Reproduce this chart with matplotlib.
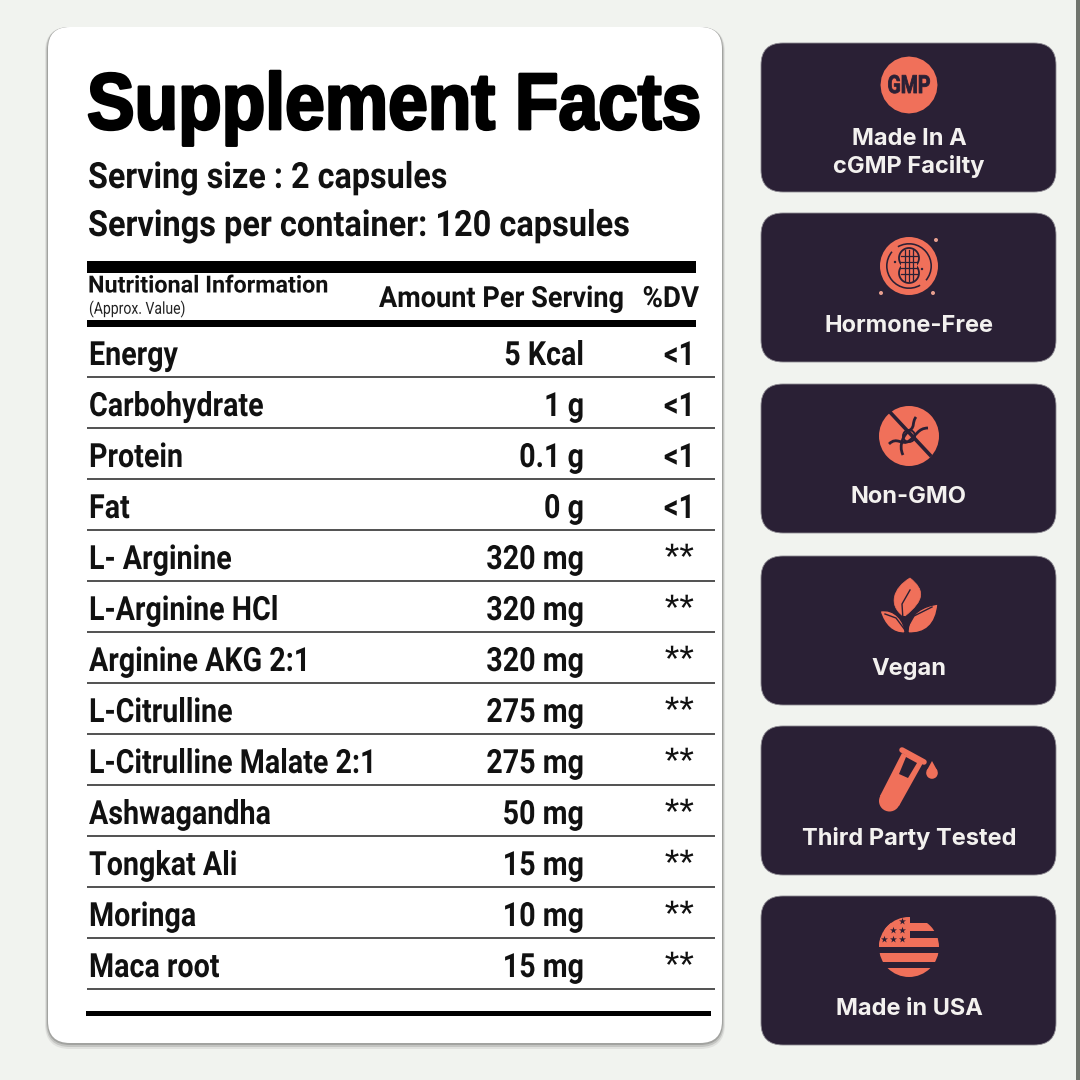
import matplotlib
matplotlib.use("Agg")
import matplotlib.pyplot as plt
import matplotlib.patheffects as pe
from matplotlib.patches import FancyBboxPatch, Circle, Polygon, Wedge, Rectangle, PathPatch, RegularPolygon
from matplotlib.path import Path
from matplotlib.transforms import Affine2D

names = ["Energy", "Carbohydrate", "Protein", "Fat", "L- Arginine", "L-Arginine HCl",
         "Arginine AKG 2:1", "L-Citrulline", "L-Citrulline Malate 2:1", "Ashwagandha",
         "Tongkat Ali", "Moringa", "Maca root"]
amounts = ["5 Kcal", "1 g", "0.1 g", "0 g", "320 mg", "320 mg", "320 mg", "275 mg",
           "275 mg", "50 mg", "15 mg", "10 mg", "15 mg"]
dv = ["<1", "<1", "<1", "<1", "**", "**", "**", "**", "**", "**", "**", "**", "**"]
badges = ["Made In A\ncGMP Facilty", "Hormone-Free", "Non-GMO", "Vegan", "Third Party Tested", "Made in USA"]
card_tops = [43, 213, 384, 556, 726, 896]

DARK = "#2a2035"
CORAL = "#f0705a"
INK = "#111111"
NARROW = ["Roboto", "DejaVu Sans"]
WIDE = ["Liberation Sans", "DejaVu Sans"]


# no condensed font is installed, so squeeze the glyphs sideways when they are drawn
class Squeeze(pe.AbstractPathEffect):
    def __init__(self, sx, x0, stroke=0):
        super().__init__()
        self.sx = sx
        self.x0 = x0
        self.stroke = stroke

    def draw_path(self, renderer, gc, tpath, affine, rgbFace=None):
        a = affine + Affine2D().translate(-self.x0, 0).scale(self.sx, 1).translate(self.x0, 0)
        if self.stroke:
            gc0 = renderer.new_gc()
            gc0.copy_properties(gc)
            gc0.set_linewidth(self.stroke)
            gc0.set_foreground(rgbFace)
            renderer.draw_path(gc0, tpath, a, rgbFace)
            gc0.restore()
        else:
            renderer.draw_path(gc, tpath, a, rgbFace)


def label(x, y, s, size, sx=0.86, ha="left", weight="bold", family=NARROW, color=INK, stroke=0, va="center"):
    ax.text(x, y, s, family=family, weight=weight, fontsize=size, va=va, ha=ha, color=color,
            path_effects=[Squeeze(sx, x, stroke)])


def curve(pts, **kw):
    codes = [Path.MOVETO] + [Path.CURVE4] * (len(pts) - 1)
    ax.add_patch(PathPatch(Path(pts, codes), **kw))


fig = plt.figure(figsize=(10.8, 10.8), dpi=100, facecolor="#f1f3ef")
ax = fig.add_axes([0, 0, 1, 1])
ax.set_xlim(0, 1080)
ax.set_ylim(1080, 0)
ax.axis("off")

# right edge strip
ax.add_patch(Rectangle((1076, 0), 4, 1080, fc="#6f736c", ec="none"))

# white panel with soft shadow
for pad, off, col in [(25, 3, "#e0e1de"), (24, 2, "#c4c5c2"), (23, 1, "#a2a3a0")]:
    ax.add_patch(FancyBboxPatch((70, 49 + off), 630, 972, boxstyle="round,pad=%d" % pad, fc=col, ec="none"))
ax.add_patch(FancyBboxPatch((70, 49), 630, 972, boxstyle="round,pad=22", fc="white", ec="none"))

# header
label(87, 129, "Supplement Facts", 57.5, sx=0.893, family=WIDE, color="black", stroke=2, va="baseline")
label(88, 178, "Serving size : 2 capsules", 26, sx=0.895)
label(88, 226, "Servings per container: 120 capsules", 26, sx=0.9)

ax.add_patch(Rectangle((87, 261), 609, 12, fc="black", ec="none"))
ax.add_patch(Rectangle((87, 320), 609, 7, fc="black", ec="none"))
label(88, 286, "Nutritional Information", 17, sx=0.99)
label(89, 309, "(Approx. Value)", 12, sx=0.84, weight="normal", color="#222222")
label(624, 299, "Amount Per Serving", 21, sx=0.93, ha="right")
label(699, 299, "%DV", 21, sx=0.95, ha="right")

# table rows
for i, (n, a, d) in enumerate(zip(names, amounts, dv)):
    y = 354.5 + i * 51
    label(89, y + 1.5, n, 24)
    label(584, y + 1.5, a, 24, ha="right")
    if d == "**":
        label(694, y + 1, d, 27, sx=1.0, ha="right", family=WIDE, weight="normal")
    else:
        label(695, y + 1.5, d, 24, ha="right")
    ax.plot([87, 715], [y + 22.5, y + 22.5], color="#333333", lw=1.2, solid_capstyle="butt")
ax.add_patch(Rectangle((86, 1011), 625, 5, fc="black", ec="none"))

# cards
for top, text in zip(card_tops, badges):
    ax.add_patch(FancyBboxPatch((783, top + 22), 251, 105, boxstyle="round,pad=22", fc=DARK, ec="#8d8a92", lw=0.6))
    y = top + 110 if "\n" in text else top + 113
    ax.text(909, y, text, family=["Inter", "DejaVu Sans"], weight="bold", fontsize=17, color="#f3f1ef",
            ha="center", va="center", linespacing=1.3)

# GMP badge
ax.add_patch(RegularPolygon((909, 85), 24, radius=28.5, fc=CORAL, ec="none"))
label(909, 86, "GMP", 18, sx=0.78, ha="center", color=DARK, stroke=0.6)

# no-peanut icon
ax.add_patch(Circle((909, 266), 29, fc=CORAL, ec="none"))
ax.add_patch(Wedge((909, 266), 23, 60, 220, width=1.6, fc=DARK))
ax.add_patch(Wedge((909, 266), 23, 240, 40, width=1.6, fc=DARK))
ax.add_patch(Circle((909, 258), 10, fc=CORAL, ec=DARK, lw=1.3))
ax.add_patch(Circle((909, 273), 10, fc=CORAL, ec=DARK, lw=1.3))
ax.add_patch(Rectangle((901, 256), 16, 20, fc=CORAL, ec="none"))
for dx in [-4, 0, 4]:
    ax.plot([909 + dx, 909 + dx], [250, 281], color=DARK, lw=0.9)
for yy in [256, 262, 268, 274]:
    ax.plot([901, 917], [yy, yy], color=DARK, lw=0.9)
for px, py in [(895, 262), (922, 269)]:
    ax.add_patch(Circle((px, py), 1.2, fc=DARK, ec="none"))
for px, py in [(936, 240), (881, 293), (933, 293)]:
    ax.add_patch(Circle((px, py), 2, fc="#e8a090", ec="none"))

# non-gmo icon
ax.add_patch(Circle((909, 436), 30, fc=CORAL, ec="none"))
curve([(889, 444), (897, 436), (902, 446), (909, 441), (916, 436), (918, 428), (928, 428)], fc="none", ec=DARK, lw=2)
curve([(903, 455), (898, 445), (904, 434), (910, 430), (915, 427), (912, 422), (916, 417)], fc="none", ec=DARK, lw=2)
ax.add_patch(Circle((909, 436), 6, fc="none", ec=DARK, lw=1.4))
ax.plot([888, 930], [410, 455], color=DARK, lw=2.6)

# vegan leaves
curve([(903, 616), (888, 605), (893, 588), (910, 578), (925, 590), (925, 600), (905, 616)], fc=CORAL, ec=CORAL, lw=0.5)
curve([(908, 633), (908, 612), (925, 606), (938, 604), (936, 625), (925, 634), (908, 633)], fc=CORAL, ec=DARK, lw=1)
curve([(905, 633), (905, 622), (895, 608), (880, 611), (884, 625), (893, 634), (905, 633)], fc=CORAL, ec=DARK, lw=1)
ax.plot([903, 902, 910], [620, 604, 590], color=DARK, lw=1)
ax.plot([906, 914, 932], [630, 616, 607], color=DARK, lw=1)
ax.plot([905, 896, 885], [630, 618, 614], color=DARK, lw=1)

# test tube
ax.add_patch(Polygon([[902, 753], [923, 763], [899, 806], [880, 796]], fc=CORAL, ec="none"))
ax.add_patch(Circle((889.5, 801), 10.5, fc=CORAL, ec="none"))
ax.plot([902, 924], [750, 762], color=CORAL, lw=4, solid_capstyle="round")
ax.add_patch(Polygon([[906, 757], [917, 763], [908, 778], [899, 774]], fc=DARK, ec="none"))
ax.add_patch(Circle((932, 773), 5.8, fc=CORAL, ec="none"))
ax.add_patch(Polygon([[932, 761], [926.5, 771], [937.5, 771]], fc=CORAL, ec="none"))

# flag
flag = Circle((909, 947), 30, transform=ax.transData)
for y0, y1 in [(923, 931), (938, 947), (953, 962), (968, 979)]:
    ax.add_patch(Rectangle((875, y0), 70, y1 - y0, fc=CORAL, ec="none")).set_clip_path(flag)
ax.add_patch(Rectangle((878, 915), 32, 32, fc=CORAL, ec="none")).set_clip_path(flag)
star_x = [902, 893, 902, 884, 893, 902]
star_y = [921, 930, 930, 939, 939, 939]
ax.scatter(star_x, star_y, marker="*", s=28, color=DARK, linewidths=0)

fig.savefig("out.png", dpi=100, facecolor=fig.get_facecolor())
